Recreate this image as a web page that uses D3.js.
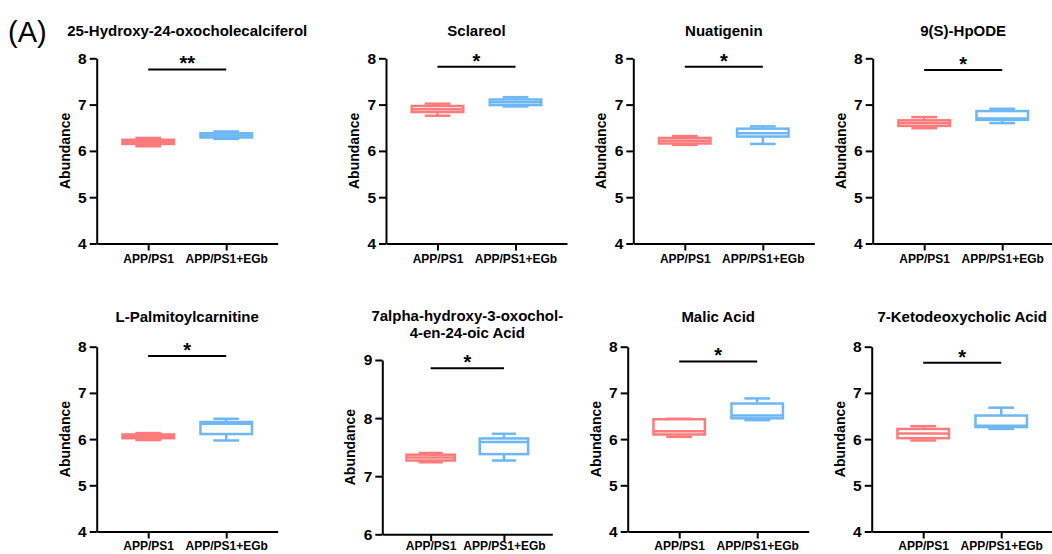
<!DOCTYPE html>
<html>
<head>
<meta charset="utf-8">
<script src="https://cdn.jsdelivr.net/npm/d3@7"></script>
<style>
  body { margin: 0; background: #fff; }
  text { font-family: Arial, "Liberation Sans", sans-serif; }
</style>
</head>
<body>
<div id="chart"></div>
<script>
// metabolite names, one per panel (row by row)
const titles = [
  ["25-Hydroxy-24-oxocholecalciferol"],
  ["Sclareol"],
  ["Nuatigenin"],
  ["9(S)-HpODE"],
  ["L-Palmitoylcarnitine"],
  ["7alpha-hydroxy-3-oxochol-", "4-en-24-oic Acid"],
  ["Malic Acid"],
  ["7-Ketodeoxycholic Acid"]
];
const groups = ["APP/PS1", "APP/PS1+EGb"];
const yDomains = [[4, 8], [4, 8], [4, 8], [4, 8], [4, 8], [6, 9], [4, 8], [4, 8]];
// box stats: [min, q1, median, q3, max]
const ctrlStats = [
  [6.10, 6.15, 6.19, 6.24, 6.28],
  [6.76, 6.84, 6.90, 6.97, 7.02],
  [6.13, 6.16, 6.22, 6.28, 6.32],
  [6.49, 6.54, 6.60, 6.66, 6.73],
  [5.98, 6.02, 6.06, 6.10, 6.13],
  [7.24, 7.27, 7.32, 7.37, 7.40],
  [6.05, 6.10, 6.17, 6.43, 6.44],
  [5.97, 6.02, 6.12, 6.22, 6.28]
];
const egbStats = [
  [6.26, 6.29, 6.33, 6.38, 6.42],
  [6.96, 6.99, 7.05, 7.11, 7.16],
  [6.15, 6.31, 6.38, 6.48, 6.53],
  [6.60, 6.67, 6.70, 6.86, 6.91],
  [5.97, 6.11, 6.33, 6.37, 6.44],
  [7.27, 7.38, 7.59, 7.65, 7.73],
  [6.41, 6.45, 6.51, 6.77, 6.88],
  [6.22, 6.26, 6.29, 6.51, 6.68]
];
const sigLabels = ["**", "*", "*", "*", "*", "*", "*", "*"];
const sigLevels = [7.76, 7.82, 7.82, 7.75, 7.80, 8.86, 7.68, 7.65];

const colors = ["#FF7B7B", "#6DB7F5"];

// panel placement (axis origin x, y top/bottom, x-axis length, tick label padding)
const layout = [
  { x: 96.7, top: 58.3, bottom: 243.5, w: 181, pad: 3.5 },
  { x: 386, top: 58.3, bottom: 243.5, w: 181, pad: 3.5 },
  { x: 633.3, top: 58.3, bottom: 243.5, w: 181, pad: 3.5 },
  { x: 872.7, top: 58.3, bottom: 243.5, w: 181, pad: 3.5 },
  { x: 96.7, top: 346.7, bottom: 531.5, w: 181, pad: 2.5 },
  { x: 382.3, top: 360, bottom: 534.3, w: 170, pad: 0 },
  { x: 627.7, top: 346.7, bottom: 531.5, w: 181, pad: 2.5 },
  { x: 871.7, top: 346.7, bottom: 531.5, w: 181, pad: 2.5 }
];
const titleBase = [36, 36, 36, 36, 322, 321, 322, 322];

const width = 1052, height = 554;
const svg = d3.select("#chart").append("svg")
  .attr("width", width)
  .attr("height", height);

svg.append("text")
  .attr("x", 8)
  .attr("y", 42)
  .attr("font-size", 29)
  .text("(A)");

titles.forEach((t, i) => {
  const L = layout[i];
  const g = svg.append("g");

  const x = d3.scalePoint().domain(groups).range([L.x, L.x + L.w]).padding(0.66);
  const y = d3.scaleLinear().domain(yDomains[i]).range([L.bottom, L.top]);
  const step = x.step();
  const boxW = step * 0.66, capW = boxW * 0.5;

  // title
  const title = g.append("text")
    .attr("text-anchor", "middle")
    .attr("font-size", 15)
    .attr("font-weight", "bold");
  t.forEach((line, k) => {
    title.append("tspan")
      .attr("x", L.x + L.w / 2)
      .attr("y", titleBase[i] + k * 17)
      .text(line);
  });

  // axes
  const yAxis = g.append("g")
    .attr("transform", `translate(${L.x},0)`)
    .call(d3.axisLeft(y).ticks(yDomains[i][1] - yDomains[i][0]).tickFormat(d3.format("d")).tickSize(7).tickSizeOuter(0).tickPadding(3));
  yAxis.selectAll("text").attr("font-size", 15.5).attr("font-weight", "bold").attr("fill", "#000");

  const xAxis = g.append("g")
    .attr("transform", `translate(0,${L.bottom})`)
    .call(d3.axisBottom(x).tickSize(7).tickSizeOuter(0).tickPadding(L.pad));
  xAxis.selectAll("text").attr("font-size", 12).attr("font-weight", "bold").attr("fill", "#000");

  g.selectAll(".domain, .tick line").attr("stroke", "#000").attr("stroke-width", 2);

  g.append("text")
    .attr("transform", `translate(${L.x - 27},${(L.top + L.bottom) / 2}) rotate(-90)`)
    .attr("text-anchor", "middle")
    .attr("font-size", 14)
    .attr("font-weight", "bold")
    .text("Abundance");

  // boxes
  [ctrlStats[i], egbStats[i]].forEach((s, j) => {
    const cx = x(groups[j]);
    const c = colors[j];
    const bg = g.append("g").attr("stroke", c).attr("stroke-width", 2.5).attr("fill", "none");
    bg.append("line").attr("x1", cx).attr("x2", cx).attr("y1", y(s[4])).attr("y2", y(s[3]));
    bg.append("line").attr("x1", cx).attr("x2", cx).attr("y1", y(s[1])).attr("y2", y(s[0]));
    bg.append("line").attr("x1", cx - capW / 2).attr("x2", cx + capW / 2).attr("y1", y(s[4])).attr("y2", y(s[4]));
    bg.append("line").attr("x1", cx - capW / 2).attr("x2", cx + capW / 2).attr("y1", y(s[0])).attr("y2", y(s[0]));
    bg.append("rect")
      .attr("x", cx - boxW / 2)
      .attr("y", y(s[3]))
      .attr("width", boxW)
      .attr("height", y(s[1]) - y(s[3]))
      .attr("fill", "#fff");
    bg.append("line").attr("x1", cx - boxW / 2).attr("x2", cx + boxW / 2).attr("y1", y(s[2])).attr("y2", y(s[2]));
  });

  // significance bar
  const sy = y(sigLevels[i]);
  g.append("line")
    .attr("x1", x(groups[0])).attr("x2", x(groups[1]))
    .attr("y1", sy).attr("y2", sy)
    .attr("stroke", "#000").attr("stroke-width", 2);
  g.append("text")
    .attr("x", (x(groups[0]) + x(groups[1])) / 2)
    .attr("y", sy + 1)
    .attr("text-anchor", "middle")
    .attr("font-size", 20)
    .attr("font-weight", "bold")
    .text(sigLabels[i]);
});
</script>
</body>
</html>
